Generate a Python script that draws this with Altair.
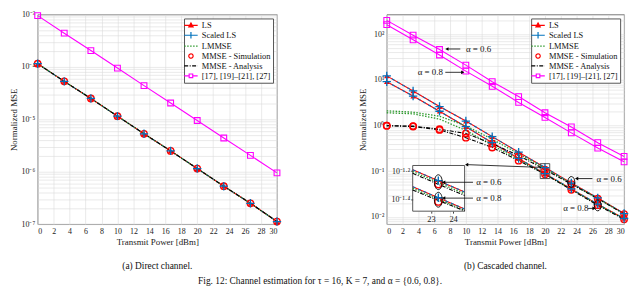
import altair as alt
import pandas as pd

# ---------------- data ----------------
x_pts = [0, 3.33, 6.67, 10, 13.33, 16.67, 20, 23.33, 26.67, 30]

# (a) direct channel: all estimators practically coincide
direct_est = [1.15e-4, 5.3e-5, 2.5e-5, 1.15e-5, 5.3e-6, 2.5e-6, 1.15e-6, 5.3e-7, 2.5e-7, 1.12e-7]
direct_ref = [9.5e-4, 4.4e-4, 2.05e-4, 9.5e-5, 4.4e-5, 2.05e-5, 9.5e-6, 4.4e-6, 2.05e-6, 9.5e-7]

# (b) cascaded channel
casc_ls_06 = [12.2, 5.7, 2.6, 1.25, 0.57, 0.26, 0.12, 0.055, 0.026, 0.0118]
casc_ls_08 = [9.1, 4.4, 2.05, 0.94, 0.42, 0.19, 0.088, 0.041, 0.019, 0.0092]
casc_lmmse_06 = [2.1, 1.95, 1.6, 0.98, 0.5, 0.24, 0.115, 0.053, 0.025, 0.0117]
casc_lmmse_08 = [1.9, 1.8, 1.38, 0.78, 0.37, 0.18, 0.086, 0.04, 0.0185, 0.0091]
casc_mmse_06 = [0.99, 0.97, 0.83, 0.67, 0.40, 0.22, 0.108, 0.052, 0.025, 0.0115]
casc_mmse_08 = [0.99, 0.95, 0.80, 0.54, 0.33, 0.17, 0.086, 0.039, 0.018, 0.0088]
casc_ref_06 = [200, 95, 46, 21, 9.1, 4.3, 1.9, 0.93, 0.42, 0.21]
casc_ref_08 = [161, 75, 35, 15.5, 7.2, 3.2, 1.5, 0.69, 0.32, 0.16]

# zoomed inset (x in dBm, y in MSE)
inset_x_domain = [22.17, 24.52]
inset_y_domain = [0.033, 0.069]
inset_line_x = [22.17, 24.52]
inset_ls_06 = [0.0644, 0.045]
inset_lmmse_06 = [0.0626, 0.0437]
inset_mmse_06 = [0.0608, 0.0425]
inset_ls_08 = [0.049, 0.0342]
inset_lmmse_08 = [0.0477, 0.0334]
inset_mmse_08 = [0.0464, 0.0331]
inset_mark_x = 23.33
inset_ls_pts = [0.054, 0.041]
inset_mmse_pts = [0.051, 0.0385]
inset_ellipse_y = [0.0527, 0.0397]
inset_xticks = [23, 24]
inset_yticks = [0.0631, 0.0398]

legend_names = ["LS", "Scaled LS", "LMMSE", "MMSE - Simulation", "MMSE - Analysis",
                "[17], [19]\u2013[21], [27]"]

# annotations (data coordinates of panel b)
ann_x = [11.6, 5.5, 28.1, 23.9, 12.9, 12.9]
ann_y = [47.3, 14.6, 0.0689, 0.0153, 0.0571, 0.0257]
ann_label = ["\u03b1 = 0.6", "\u03b1 = 0.8", "\u03b1 = 0.6", "\u03b1 = 0.8", "\u03b1 = 0.6", "\u03b1 = 0.8"]
arrow_x = [9.3, 7.4, 26.0, 25.4, 10.9, 10.9, 19.5]
arrow_y = [47.3, 14.6, 0.0689, 0.0153, 0.0571, 0.0257, 0.121]
arrow_x2 = [7.6, 9.6, 24.0, 26.2, 7.2, 7.2, 10.1]
arrow_y2 = [47.3, 14.6, 0.0689, 0.0153, 0.0571, 0.0257, 0.139]
arrow_dir = ["left", "right", "left", "right", "left", "left", "left"]
zoom_box = [19.4, 20.6, 0.069, 0.146]
ellipse_x = [23.33, 26.67]
ellipse_y = [0.058, 0.0178]

# ---------------- styling ----------------
FONT = "Liberation Serif"
RED, BLUE, GREEN, MAG, BLACK = "#ff0000", "#0072bd", "#2e9a2e", "#ff00ff", "#000000"
PLUS = "M-1,0H1M0,-1V1"
W_L, W_R, H = 242, 240, 212
LOG_TOP, LOG_BOT = 2.43, -2.16
ydom_right = [10 ** LOG_BOT, 10 ** LOG_TOP]

SUP = str.maketrans("-0123456789", "\u207b\u2070\u00b9\u00b2\u00b3\u2074\u2075\u2076\u2077\u2078\u2079")


def log_axis_values(pmin, pmax, lo, hi):
    vals = []
    for p in range(pmin, pmax + 1):
        for m in range(1, 10):
            v = m * 10.0 ** p
            if lo * 0.999 <= v <= hi * 1.001:
                vals.append(v)
    return vals


def pow_label_expr(powers):
    expr = "''"
    for p in powers:
        expr = "datum.value == %r ? '10%s' : (%s)" % (10.0 ** p, str(p).translate(SUP), expr)
    return expr


def long_df(rows):
    recs = []
    for series, alpha, vals in rows:
        for xv, yv in zip(x_pts, vals):
            recs.append({"series": series, "alpha": alpha, "x": xv, "y": yv})
    return pd.DataFrame(recs)


def make_x():
    return alt.X("x:Q", scale=alt.Scale(domain=[0, 30], nice=False, zero=False),
                 axis=alt.Axis(values=list(range(0, 31, 2)), title="Transmit Power [dBm]"))


def make_y(domain, powers, ticks):
    return alt.Y("y:Q", scale=alt.Scale(type="log", domain=domain, nice=False),
                 axis=alt.Axis(values=ticks, labelExpr=pow_label_expr(powers), title="Normalized MSE"))


def series_layers(df, X, Y):
    base = alt.Chart(df)

    def sel(s):
        return base.transform_filter(alt.datum.series == s)

    return [
        sel("REF").mark_line(color=MAG, strokeWidth=1.1).encode(X, Y, detail="alpha:N"),
        sel("LS").mark_line(color=RED, strokeWidth=1.1).encode(X, Y, detail="alpha:N"),
        sel("SLS").mark_line(color=BLUE, strokeWidth=1.1, strokeDash=[3, 3]).encode(X, Y, detail="alpha:N"),
        sel("LMMSE").mark_line(color=GREEN, strokeWidth=1.3, strokeDash=[1.5, 1.5]).encode(X, Y, detail="alpha:N"),
        sel("MMSE").mark_line(color=BLACK, strokeWidth=1.1, strokeDash=[4, 1.5, 1, 1.5]).encode(X, Y, detail="alpha:N"),
        sel("REF").mark_point(shape="square", size=34, filled=False, color=MAG, strokeWidth=1.1, opacity=1).encode(X, Y),
        sel("LS").mark_point(shape="triangle-up", size=30, filled=True, color=RED, opacity=1).encode(X, Y),
        sel("MMSE").mark_point(shape="circle", size=42, filled=False, color=RED, strokeWidth=1.4, opacity=1).encode(X, Y),
        sel("SLS").mark_point(shape=PLUS, size=72, filled=False, color=BLUE, strokeWidth=1.3, opacity=1).encode(X, Y),
    ]


legend_colors = [RED, BLUE, GREEN, RED, BLACK, MAG]
legend_fills = [RED, "transparent", "transparent", "transparent", "transparent", "transparent"]
legend_shapes = [
    "M-1.7,0H1.7M0,-0.6L0.55,0.4L-0.55,0.4Z",
    "M-1.7,0H1.7M0,-0.8V0.8",
    "M-1.7,0H1.7",
    "M0.55,0A0.55,0.55,0,1,1,-0.55,0A0.55,0.55,0,1,1,0.55,0Z",
    "M-1.7,0H1.7",
    "M-1.7,0H-0.45M0.45,0H1.7M-0.45,-0.45H0.45V0.45H-0.45Z",
]
legend_dash = [[1, 0], [1, 0], [1.5, 1.5], [1, 0], [4, 1.5, 1, 1.5], [1, 0]]


def legend_layer(X, Y, yval):
    leg = alt.Legend(title=None, orient="top-right", offset=4, padding=2, strokeColor="#555",
                     fillColor="white", labelFont=FONT, labelFontSize=8.5, labelColor="#111",
                     symbolSize=64, symbolStrokeWidth=1.2, rowPadding=-2.5, labelOffset=6,
                     cornerRadius=0)
    df = pd.DataFrame({"name": legend_names, "x": [0] * 6, "y": [yval] * 6})
    return alt.Chart(df).transform_filter("false").mark_point(opacity=1, filled=False).encode(
        X, Y,
        color=alt.Color("name:N", scale=alt.Scale(domain=legend_names, range=legend_colors), legend=leg),
        fill=alt.Fill("name:N", scale=alt.Scale(domain=legend_names, range=legend_fills), legend=leg),
        shape=alt.Shape("name:N", scale=alt.Scale(domain=legend_names, range=legend_shapes), legend=leg),
        strokeDash=alt.StrokeDash("name:N", scale=alt.Scale(domain=legend_names, range=legend_dash), legend=leg),
    )


caption_style = dict(orient="bottom", anchor="middle", font=FONT, fontSize=9.5,
                     fontWeight="normal", color="#111")

# ---------------- panel (a) ----------------
XL = make_x()
YL = make_y([1e-7, 1e-3], range(-7, -2), log_axis_values(-7, -3, 1e-7, 1e-3))
left_df = long_df([("LS", "-", direct_est), ("SLS", "-", direct_est), ("LMMSE", "-", direct_est),
                   ("MMSE", "-", direct_est), ("REF", "-", direct_ref)])
left = alt.layer(*series_layers(left_df, XL, YL), legend_layer(XL, YL, 1e-5)).properties(
    width=W_L, height=H,
    title=alt.TitleParams("(a) Direct channel.", offset=14, **caption_style))

# ---------------- panel (b) ----------------
XR = make_x()
YR = make_y(ydom_right, range(-2, 3), log_axis_values(-3, 2, ydom_right[0], ydom_right[1]))
rows = []
for a, ls, lm, mm, rf in [("0.6", casc_ls_06, casc_lmmse_06, casc_mmse_06, casc_ref_06),
                          ("0.8", casc_ls_08, casc_lmmse_08, casc_mmse_08, casc_ref_08)]:
    rows += [("LS", a, ls), ("SLS", a, ls), ("LMMSE", a, lm), ("MMSE", a, mm), ("REF", a, rf)]
right_df = long_df(rows)

ell_main = alt.Chart(pd.DataFrame({"x": ellipse_x, "y": ellipse_y})).mark_point(
    shape="M0.64,0A0.64,1,0,1,1,-0.64,0A0.64,1,0,1,1,0.64,0Z", size=121, filled=False,
    color=BLACK, strokeWidth=0.9, opacity=1).encode(XR, YR)
box_main = alt.Chart(pd.DataFrame({"x": [zoom_box[0]], "x2": [zoom_box[1]], "y": [zoom_box[2]], "y2": [zoom_box[3]]})).mark_rect(
    fill="transparent", stroke="#444", strokeWidth=0.9).encode(XR, YR, x2="x2:Q", y2="y2:Q")

main_group = alt.layer(*series_layers(right_df, XR, YR), ell_main, box_main, legend_layer(XR, YR, 1.0))

# inset placed through its own scales (pixel ranges inside the plot area)
ix0 = 3.28 / 30 * W_R
ix1 = 9.84 / 30 * W_R
iy_top = (LOG_TOP + 0.876) / (LOG_TOP - LOG_BOT) * H
iy_bot = (LOG_TOP + 1.876) / (LOG_TOP - LOG_BOT) * H

IX = alt.X("x:Q", scale=alt.Scale(domain=inset_x_domain, range=[ix0, ix1], nice=False, zero=False),
           axis=alt.Axis(orient="bottom", offset=iy_bot - H, values=inset_xticks, grid=False, domain=False,
                         ticks=True, tickSize=2, tickColor="#444", labelFont=FONT, labelFontSize=8.5,
                         title=None, zindex=3, labelPadding=1))
IY = alt.Y("y:Q", scale=alt.Scale(type="log", domain=inset_y_domain, range=[iy_bot, iy_top], nice=False),
           axis=alt.Axis(orient="left", offset=-ix0, values=inset_yticks, grid=False, domain=False,
                         ticks=True, tickSize=2, tickColor="#444", labelFont=FONT, labelFontSize=8,
                         labelExpr="datum.value > 0.05 ? '10\u207b\u00b9\u00b7\u00b2' : '10\u207b\u00b9\u00b7\u2074'",
                         title=None, zindex=3, labelPadding=1))

inset_bg = alt.Chart(pd.DataFrame({"x": [inset_x_domain[0]], "x2": [inset_x_domain[1]],
                                   "y": [inset_y_domain[0]], "y2": [inset_y_domain[1]]})).mark_rect(
    fill="white", stroke="#444", strokeWidth=0.9).encode(IX, IY, x2="x2:Q", y2="y2:Q")

irows = []
for s, v06, v08 in [("LS", inset_ls_06, inset_ls_08), ("SLS", inset_ls_06, inset_ls_08),
                    ("LMMSE", inset_lmmse_06, inset_lmmse_08), ("MMSE", inset_mmse_06, inset_mmse_08)]:
    for a, vals in (("0.6", v06), ("0.8", v08)):
        for xv, yv in zip(inset_line_x, vals):
            irows.append({"series": s, "alpha": a, "x": xv, "y": yv})
inset_df = pd.DataFrame(irows)
ib = alt.Chart(inset_df)
inset_lines = [
    ib.transform_filter(alt.datum.series == "LS").mark_line(color=RED, strokeWidth=1.1).encode(IX, IY, detail="alpha:N"),
    ib.transform_filter(alt.datum.series == "SLS").mark_line(color=BLUE, strokeWidth=1.1, strokeDash=[3, 3]).encode(IX, IY, detail="alpha:N"),
    ib.transform_filter(alt.datum.series == "LMMSE").mark_line(color=GREEN, strokeWidth=1.3, strokeDash=[1.5, 1.5]).encode(IX, IY, detail="alpha:N"),
    ib.transform_filter(alt.datum.series == "MMSE").mark_line(color=BLACK, strokeWidth=1.1, strokeDash=[4, 1.5, 1, 1.5]).encode(IX, IY, detail="alpha:N"),
]
ipts_ls = pd.DataFrame({"x": [inset_mark_x] * 2, "y": inset_ls_pts})
ipts_mm = pd.DataFrame({"x": [inset_mark_x] * 2, "y": inset_mmse_pts})
inset_marks = [
    alt.Chart(ipts_mm).mark_point(shape="circle", size=50, filled=False, color=RED, strokeWidth=1.5, opacity=1).encode(IX, IY),
    alt.Chart(ipts_ls).mark_point(shape=PLUS, size=72, filled=False, color=BLUE, strokeWidth=1.4, opacity=1).encode(IX, IY),
    alt.Chart(pd.DataFrame({"x": [inset_mark_x] * 2, "y": inset_ellipse_y})).mark_point(
        shape="M0.53,0A0.53,1,0,1,1,-0.53,0A0.53,1,0,1,1,0.53,0Z", size=225, filled=False,
        color=BLACK, strokeWidth=0.9, opacity=1).encode(IX, IY),
]
inset_group = alt.layer(inset_bg, *inset_lines, *inset_marks)

# annotations on top, with scales identical to the main ones
AX = alt.X("x:Q", scale=alt.Scale(domain=[0, 30], nice=False, zero=False), axis=None)
AY = alt.Y("y:Q", scale=alt.Scale(type="log", domain=ydom_right, nice=False), axis=None)
arr_df = pd.DataFrame({"x": arrow_x, "y": arrow_y, "x2": arrow_x2, "y2": arrow_y2, "dir": arrow_dir})
ann_group = alt.layer(
    alt.Chart(arr_df).mark_rule(color=BLACK, strokeWidth=0.8).encode(AX, AY, x2="x2:Q", y2="y2:Q"),
    alt.Chart(arr_df).transform_filter(alt.datum.dir == "left").mark_point(
        shape="triangle-left", size=14, filled=True, color=BLACK, opacity=1).encode(
        alt.X("x2:Q", scale=alt.Scale(domain=[0, 30], nice=False, zero=False), axis=None),
        alt.Y("y2:Q", scale=alt.Scale(type="log", domain=ydom_right, nice=False), axis=None)),
    alt.Chart(arr_df).transform_filter(alt.datum.dir == "right").mark_point(
        shape="triangle-right", size=14, filled=True, color=BLACK, opacity=1).encode(
        alt.X("x2:Q", scale=alt.Scale(domain=[0, 30], nice=False, zero=False), axis=None),
        alt.Y("y2:Q", scale=alt.Scale(type="log", domain=ydom_right, nice=False), axis=None)),
    alt.Chart(pd.DataFrame({"x": ann_x, "y": ann_y, "label": ann_label})).mark_text(
        font=FONT, fontSize=9, color="#111").encode(AX, AY, text="label:N"),
)

right = alt.layer(main_group, inset_group, ann_group).resolve_scale(
    x="independent", y="independent").properties(
    width=W_R, height=H,
    title=alt.TitleParams("(b) Cascaded channel.", offset=14, **caption_style))

chart = alt.hconcat(left, right, spacing=111, bounds="flush").resolve_scale(
    color="independent", fill="independent", shape="independent", strokeDash="independent"
).resolve_legend(
    color="independent", fill="independent", shape="independent", strokeDash="independent"
).properties(
    padding=0,
    title=alt.TitleParams("Fig. 12: Channel estimation for \u03c4 = 16, K = 7, and \u03b1 = {0.6, 0.8}.",
                          offset=6, **caption_style),
).configure_view(stroke="#555", strokeWidth=0.8).configure_axis(
    labelFont=FONT, labelFontSize=8, labelColor="#222", titleFont=FONT, titleFontSize=9,
    titleFontWeight="normal", titleColor="#222", gridColor="#dcdcdc", gridWidth=0.6,
    domain=False, ticks=False, labelPadding=3, titlePadding=3,
)

chart.save("out.html", embed_options={"renderer": "svg", "actions": False})
